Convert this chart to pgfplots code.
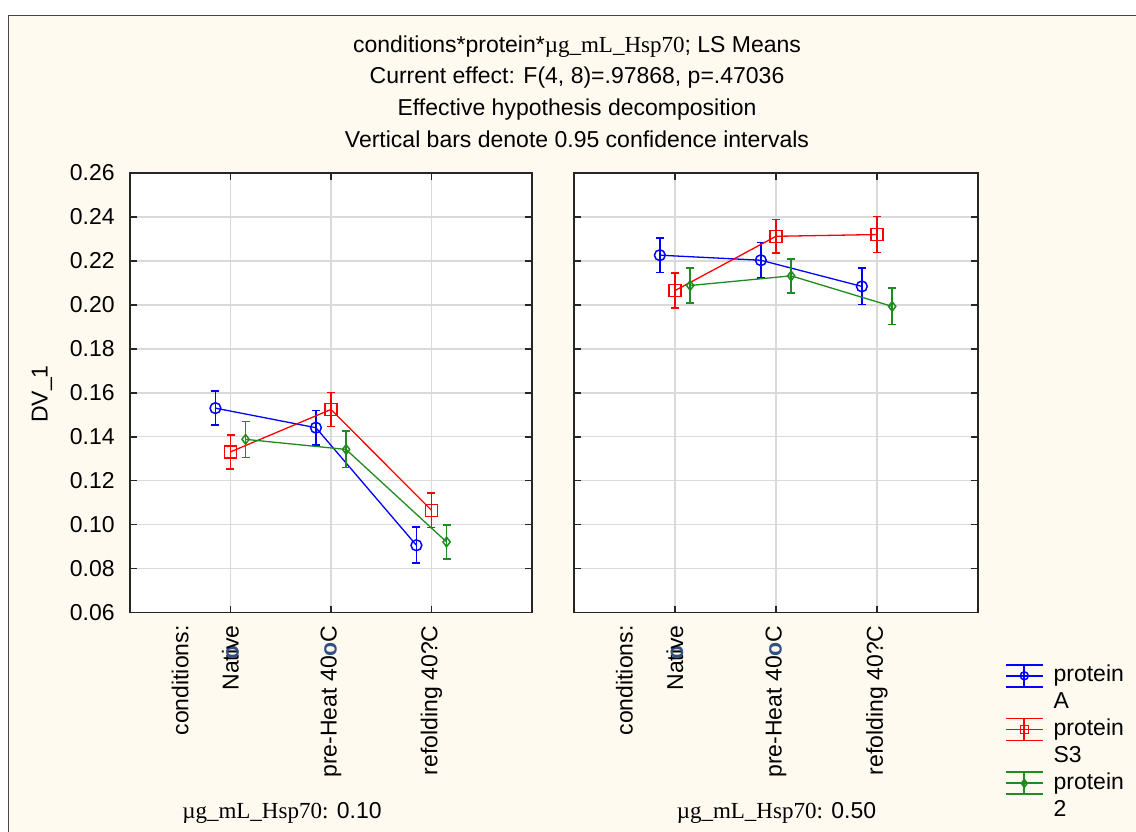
\documentclass[border=0pt]{standalone}
\usepackage{pgfplots}
\pgfplotsset{compat=1.18}
\usepackage{fontspec}
\setmainfont{Liberation Sans}
\newfontfamily\serif{Liberation Serif}
\definecolor{cream}{RGB}{255,250,240}
\definecolor{sblue}{RGB}{0,0,255}
\definecolor{sred}{RGB}{255,0,0}
\definecolor{sgreen}{RGB}{30,140,30}
\definecolor{ringc}{RGB}{50,80,130}
\definecolor{gridc}{RGB}{218,218,218}
\definecolor{frame}{RGB}{70,70,70}

\pgfplotsset{
 panel/.style={
  scale only axis, height=219.75pt,
  xmin=0, xmax=4, ymin=0.06, ymax=0.26,
  ytick={0.06,0.08,0.10,0.12,0.14,0.16,0.18,0.20,0.22,0.24,0.26},
  xtick={1,2,3},
  xticklabels={{Nat\ooalign{i\cr\hidewidth{\color{ringc}\textbf{o}}\hidewidth\cr}ve},{pre-Heat 40{\color{ringc}\textbf{o}}C},{refolding 40?C}},
  extra x ticks={0.5}, extra x tick labels={conditions:},
  extra x tick style={grid=none, major tick length=0pt},
  grid=major, grid style={gridc, line width=0.75pt},
  axis line style={black!85, line width=0.8pt},
  tick style={black!85, line width=0.8pt},
  tick align=inside, xtick pos=both, ytick pos=both,
  major tick length=3.5pt,
  xticklabel style={rotate=90, anchor=east, inner xsep=6.25pt},
  yticklabel style={anchor=east, inner xsep=7.5pt},
  axis background/.style={fill=white},
  clip=false,
  /pgf/number format/fixed, /pgf/number format/fixed zerofill,
  /pgf/number format/precision=2, /pgf/number format/assume math mode=true,
 },
 statleg/.style={legend image code/.code={
   \begin{scope}[yshift=-1pt]
   \draw[mark=none, line width=0.8pt] (0pt,0pt) -- (18.5pt,0pt);
   \draw[mark=none, line width=0.8pt] (0pt,5.5pt) -- (18.5pt,5.5pt);
   \draw[mark=none, line width=0.8pt] (0pt,-5.5pt) -- (18.5pt,-5.5pt);
   \draw[mark=none, line width=0.8pt] (9.25pt,-5.5pt) -- (9.25pt,5.5pt);
   \draw[only marks, mark size=2pt] plot coordinates {(9.25pt,0pt)};
   \end{scope}
 }},
 sA/.style={statleg, sblue, line width=0.65pt, mark=o, mark size=2.7pt, mark options={solid, line width=0.75pt},
   error bars/.cd, y dir=both, y explicit, error bar style={line width=0.8pt, sblue},
   error mark=-, error mark options={rotate=90, sblue, mark size=2pt, line width=0.8pt}},
 sB/.style={statleg, sred, line width=0.65pt, mark=square, mark size=3pt, mark options={solid, line width=0.75pt},
   error bars/.cd, y dir=both, y explicit, error bar style={line width=0.8pt, sred},
   error mark=-, error mark options={rotate=90, sred, mark size=2pt, line width=0.8pt}},
 sC/.style={statleg, sgreen, line width=0.65pt, mark=diamond, mark size=2.4pt, mark options={solid, line width=0.75pt},
   error bars/.cd, y dir=both, y explicit, error bar style={line width=0.8pt, sgreen},
   error mark=-, error mark options={rotate=90, sgreen, mark size=2pt, line width=0.8pt}},
}

\begin{document}
\begin{tikzpicture}[font=\fontsize{11.5}{13.5}\selectfont]
\path[use as bounding box] (0,0) rectangle (568pt,-415.5pt);
\fill[white] (0,0) rectangle (568pt,-415.5pt);
\filldraw[fill=cream, draw=frame, line width=0.6pt] (4.25pt,-7.75pt) rectangle (620pt,-460pt);

\node[anchor=base] at (288.5pt,-26pt) {conditions*protein*{\serif µg\_mL\_Hsp70}; LS Means};
\node[anchor=base] at (288.5pt,-41.5pt) {Current effect: F(4, 8)=.97868, p=.47036};
\node[anchor=base] at (288.5pt,-57.5pt) {Effective hypothesis decomposition};
\node[anchor=base] at (288.5pt,-73.5pt) {Vertical bars denote 0.95 confidence intervals};

\node[rotate=90, anchor=center] at (21pt,-197pt) {DV\_1};
\node[anchor=center] at (141pt,-406.5pt) {{\serif µg\_mL\_Hsp70:} 0.10};
\node[anchor=center] at (388.25pt,-406.5pt) {{\serif µg\_mL\_Hsp70:} 0.50};

\begin{axis}[panel, width=201pt, at={(65pt,-306.25pt)}, anchor=south west]
\addplot+[sA] coordinates {(0.85,0.1530) +- (0,0.0078) (1.85,0.1441) +- (0,0.0078) (2.85,0.0906) +- (0,0.0082)};
\addplot+[sB] coordinates {(1,0.1331) +- (0,0.0077) (2,0.1524) +- (0,0.0077) (3,0.1065) +- (0,0.0078)};
\addplot+[sC] coordinates {(1.15,0.1388) +- (0,0.0082) (2.15,0.1342) +- (0,0.0083) (3.15,0.0921) +- (0,0.0078)};
\end{axis}

\begin{axis}[panel, width=202pt, at={(287pt,-306.25pt)}, anchor=south west,
  yticklabels={},
  legend cell align=left,
  legend style={at={(axis description cs:1.0668,-0.1145)}, anchor=north west, draw=none, fill=none,
    inner sep=0pt, outer sep=0pt, row sep=14.5pt, nodes={inner sep=0pt, inner xsep=5pt}}]
\addplot+[sA] coordinates {(0.85,0.2226) +- (0,0.0078) (1.85,0.2203) +- (0,0.0080) (2.85,0.2084) +- (0,0.0083)};
\addlegendentry{\begin{tabular}[t]{@{}l@{}}protein\\A\end{tabular}}
\addplot+[sB] coordinates {(1,0.2065) +- (0,0.0080) (2,0.2312) +- (0,0.0076) (3,0.2320) +- (0,0.0082)};
\addlegendentry{\begin{tabular}[t]{@{}l@{}}protein\\S3\end{tabular}}
\addplot+[sC] coordinates {(1.15,0.2088) +- (0,0.0080) (2.15,0.2132) +- (0,0.0078) (3.15,0.1993) +- (0,0.0083)};
\addlegendentry{\begin{tabular}[t]{@{}l@{}}protein\\2\end{tabular}}
\end{axis}
\end{tikzpicture}
\end{document}
